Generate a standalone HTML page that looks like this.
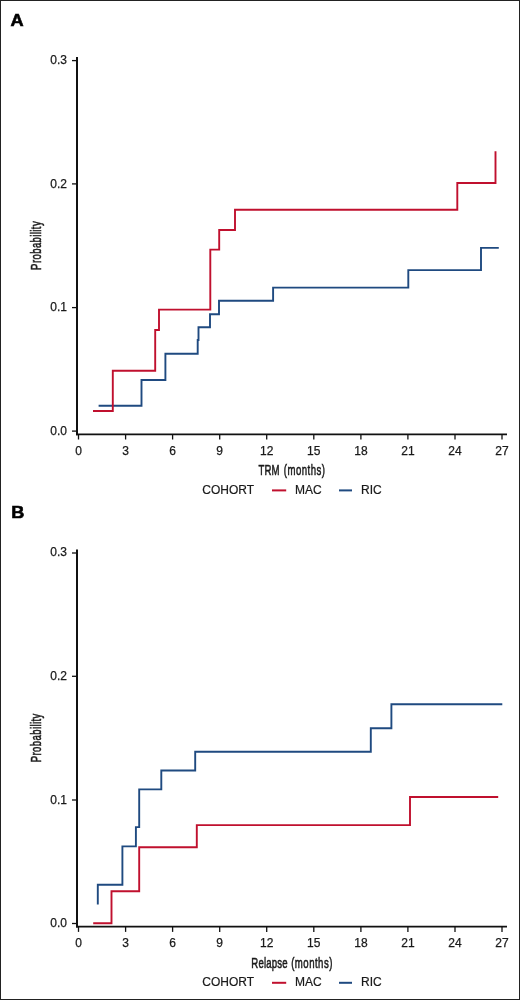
<!DOCTYPE html>
<html><head><meta charset="utf-8">
<style>
html,body{margin:0;padding:0;background:#fff;}
svg{display:block;}
text{font-family:"Liberation Sans",sans-serif;fill:#1a1a1a;}
svg{will-change:transform;}
.lab{font-weight:bold;font-size:17.3px;fill:#000;stroke:#000;stroke-width:0.6px;}
.tk{font-size:12px;stroke:#1a1a1a;stroke-width:0.25px;}
.ttl{font-size:15px;stroke:#1a1a1a;stroke-width:0.55px;}
.lg{font-size:12px;stroke:#1a1a1a;stroke-width:0.2px;}
.ax{stroke:#111;}
.cv{fill:none;stroke-width:1.9;stroke-linejoin:miter;stroke-linecap:butt;}
</style></head>
<body>
<svg width="520" height="1000" viewBox="0 0 520 1000">
<rect x="0.5" y="0.5" width="519" height="999" fill="#fff" stroke="#222" stroke-width="1"/>
<text transform="translate(10.6,25.8) scale(1.05,1)" class="lab">A</text>
<line x1="77" y1="57.0" x2="77" y2="435.2" class="ax" stroke-width="2"/>
<line x1="76" y1="434.3" x2="507" y2="434.3" class="ax" stroke-width="1.8"/>
<line x1="72" y1="60.6" x2="77" y2="60.6" class="ax" stroke-width="1.3"/>
<text x="67" y="63.5" class="tk" text-anchor="end">0.3</text>
<line x1="72" y1="183.9" x2="77" y2="183.9" class="ax" stroke-width="1.3"/>
<text x="67" y="187.8" class="tk" text-anchor="end">0.2</text>
<line x1="72" y1="307.6" x2="77" y2="307.6" class="ax" stroke-width="1.3"/>
<text x="67" y="311.1" class="tk" text-anchor="end">0.1</text>
<line x1="72" y1="431.1" x2="77" y2="431.1" class="ax" stroke-width="1.3"/>
<text x="67" y="434.5" class="tk" text-anchor="end">0.0</text>
<line x1="78.5" y1="434.3" x2="78.5" y2="439.5" class="ax" stroke-width="1.3"/>
<text x="78.5" y="454.5" class="tk" text-anchor="middle">0</text>
<line x1="125.6" y1="434.3" x2="125.6" y2="439.5" class="ax" stroke-width="1.3"/>
<text x="125.6" y="454.5" class="tk" text-anchor="middle">3</text>
<line x1="172.6" y1="434.3" x2="172.6" y2="439.5" class="ax" stroke-width="1.3"/>
<text x="172.6" y="454.5" class="tk" text-anchor="middle">6</text>
<line x1="219.7" y1="434.3" x2="219.7" y2="439.5" class="ax" stroke-width="1.3"/>
<text x="219.7" y="454.5" class="tk" text-anchor="middle">9</text>
<line x1="266.7" y1="434.3" x2="266.7" y2="439.5" class="ax" stroke-width="1.3"/>
<text x="266.7" y="454.5" class="tk" text-anchor="middle">12</text>
<line x1="313.8" y1="434.3" x2="313.8" y2="439.5" class="ax" stroke-width="1.3"/>
<text x="313.8" y="454.5" class="tk" text-anchor="middle">15</text>
<line x1="360.9" y1="434.3" x2="360.9" y2="439.5" class="ax" stroke-width="1.3"/>
<text x="360.9" y="454.5" class="tk" text-anchor="middle">18</text>
<line x1="407.9" y1="434.3" x2="407.9" y2="439.5" class="ax" stroke-width="1.3"/>
<text x="407.9" y="454.5" class="tk" text-anchor="middle">21</text>
<line x1="455.0" y1="434.3" x2="455.0" y2="439.5" class="ax" stroke-width="1.3"/>
<text x="455.0" y="454.5" class="tk" text-anchor="middle">24</text>
<line x1="502.0" y1="434.3" x2="502.0" y2="439.5" class="ax" stroke-width="1.3"/>
<text x="502.0" y="454.5" class="tk" text-anchor="middle">27</text>
<text transform="translate(258.40,475.20) scale(0.6400,1)" class="ttl" letter-spacing="0.3">TRM</text>
<text transform="translate(283.80,475.20) scale(0.6400,1)" class="ttl" letter-spacing="0.75">(months)</text>
<text transform="translate(41.2,269.9) rotate(-90) scale(0.64,1)" class="ttl" letter-spacing="0.6">Probability</text>
<text x="202.3" y="494.0" class="lg">COHORT</text>
<line x1="272" y1="490.4" x2="286.2" y2="490.4" stroke="#c0102e" stroke-width="2"/>
<text x="295" y="494.0" class="lg">MAC</text>
<line x1="339" y1="490.4" x2="352" y2="490.4" stroke="#1f4a80" stroke-width="2"/>
<text x="361" y="494.0" class="lg">RIC</text>
<path d="M98.6 405.7 H141.5 V380 H165.4 V353.8 H197.7 V340 H198.5 V327.3 H210 V314.2 H219 V300.8 H273.1 V287.6 H408.3 V270.1 H481 V247.9 H498.8" class="cv" stroke="#1f4a80"/>
<path d="M93 411 H112.8 V370.8 H155.2 V330 H159 V309.6 H210.3 V249.6 H219.2 V230 H235 V209.7 H457.3 V183 H495.5 V151.3" class="cv" stroke="#c0102e"/>
<text transform="translate(11.3,518.2) scale(1.05,1)" class="lab">B</text>
<line x1="77" y1="549.4" x2="77" y2="927.6" class="ax" stroke-width="2"/>
<line x1="76" y1="926.7" x2="507" y2="926.7" class="ax" stroke-width="1.8"/>
<line x1="72" y1="553.0" x2="77" y2="553.0" class="ax" stroke-width="1.3"/>
<text x="67" y="555.9" class="tk" text-anchor="end">0.3</text>
<line x1="72" y1="676.3" x2="77" y2="676.3" class="ax" stroke-width="1.3"/>
<text x="67" y="680.2" class="tk" text-anchor="end">0.2</text>
<line x1="72" y1="800.0" x2="77" y2="800.0" class="ax" stroke-width="1.3"/>
<text x="67" y="803.5" class="tk" text-anchor="end">0.1</text>
<line x1="72" y1="923.5" x2="77" y2="923.5" class="ax" stroke-width="1.3"/>
<text x="67" y="926.9" class="tk" text-anchor="end">0.0</text>
<line x1="78.5" y1="926.7" x2="78.5" y2="931.9" class="ax" stroke-width="1.3"/>
<text x="78.5" y="946.9" class="tk" text-anchor="middle">0</text>
<line x1="125.6" y1="926.7" x2="125.6" y2="931.9" class="ax" stroke-width="1.3"/>
<text x="125.6" y="946.9" class="tk" text-anchor="middle">3</text>
<line x1="172.6" y1="926.7" x2="172.6" y2="931.9" class="ax" stroke-width="1.3"/>
<text x="172.6" y="946.9" class="tk" text-anchor="middle">6</text>
<line x1="219.7" y1="926.7" x2="219.7" y2="931.9" class="ax" stroke-width="1.3"/>
<text x="219.7" y="946.9" class="tk" text-anchor="middle">9</text>
<line x1="266.7" y1="926.7" x2="266.7" y2="931.9" class="ax" stroke-width="1.3"/>
<text x="266.7" y="946.9" class="tk" text-anchor="middle">12</text>
<line x1="313.8" y1="926.7" x2="313.8" y2="931.9" class="ax" stroke-width="1.3"/>
<text x="313.8" y="946.9" class="tk" text-anchor="middle">15</text>
<line x1="360.9" y1="926.7" x2="360.9" y2="931.9" class="ax" stroke-width="1.3"/>
<text x="360.9" y="946.9" class="tk" text-anchor="middle">18</text>
<line x1="407.9" y1="926.7" x2="407.9" y2="931.9" class="ax" stroke-width="1.3"/>
<text x="407.9" y="946.9" class="tk" text-anchor="middle">21</text>
<line x1="455.0" y1="926.7" x2="455.0" y2="931.9" class="ax" stroke-width="1.3"/>
<text x="455.0" y="946.9" class="tk" text-anchor="middle">24</text>
<line x1="502.0" y1="926.7" x2="502.0" y2="931.9" class="ax" stroke-width="1.3"/>
<text x="502.0" y="946.9" class="tk" text-anchor="middle">27</text>
<text transform="translate(251.30,967.60) scale(0.6400,1)" class="ttl" letter-spacing="0.3">Relapse</text>
<text transform="translate(291.20,967.60) scale(0.6400,1)" class="ttl" letter-spacing="0.75">(months)</text>
<text transform="translate(41.2,762.3) rotate(-90) scale(0.64,1)" class="ttl" letter-spacing="0.6">Probability</text>
<text x="202.3" y="986.4" class="lg">COHORT</text>
<line x1="272" y1="982.8" x2="286.2" y2="982.8" stroke="#c0102e" stroke-width="2"/>
<text x="295" y="986.4" class="lg">MAC</text>
<line x1="339" y1="982.8" x2="352" y2="982.8" stroke="#1f4a80" stroke-width="2"/>
<text x="361" y="986.4" class="lg">RIC</text>
<path d="M93.2 923.3 H111.5 V891.2 H139.2 V847.3 H196.8 V825.1 H410 V797 H498.2" class="cv" stroke="#c0102e"/>
<path d="M97.8 904.6 V884.8 H122.4 V846.4 H135.9 V827.1 H139.2 V789.4 H161.3 V770.5 H195.2 V751.7 H370.8 V728.2 H391.4 V704.3 H502.3" class="cv" stroke="#1f4a80"/>
</svg>
</body></html>
